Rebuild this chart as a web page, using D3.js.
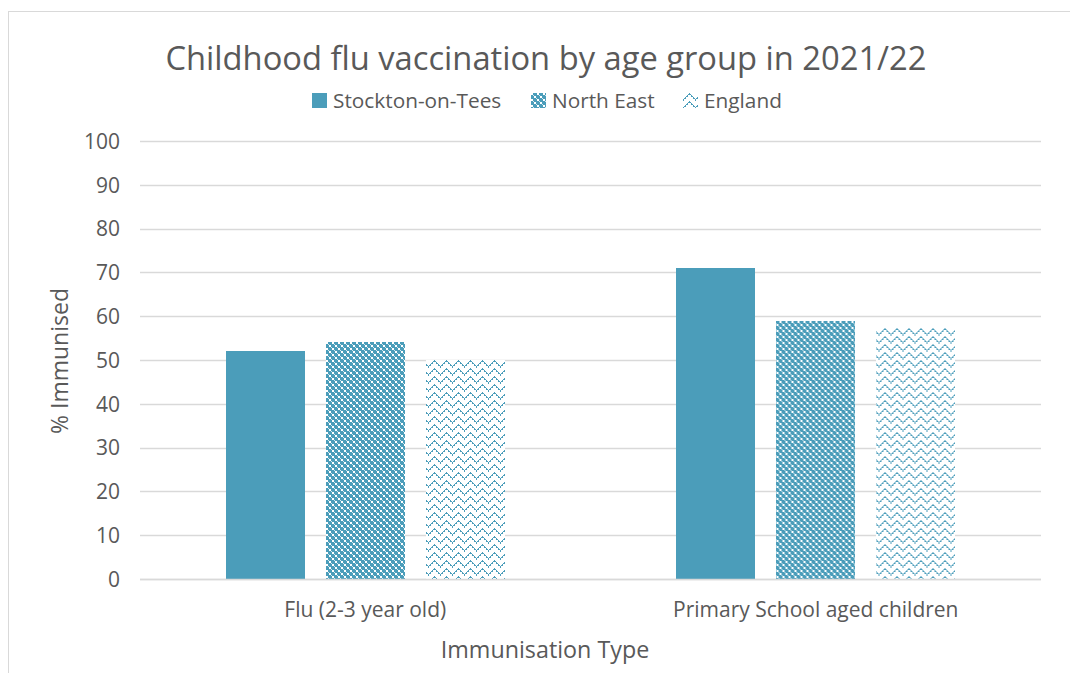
<!DOCTYPE html>
<html>
<head>
<meta charset="utf-8">
<script src="https://cdn.jsdelivr.net/npm/d3@7"></script>
<style>
  html, body { margin: 0; padding: 0; background: #fff; }
  svg { display: block; }
  text { font-family: "Open Sans", Lato, sans-serif; fill: #595959; }
</style>
</head>
<body>
<div id="chart"></div>
<script>
// Childhood flu vaccination uptake, 2021/22
const categories = ["Flu (2-3 year old)", "Primary School aged children"];
const seriesNames = ["Stockton-on-Tees", "North East", "England"];
const stocktonValues = [52, 71];
const northEastValues = [54, 59];
const englandValues = [50, 57.2];
const yTicks = [0, 10, 20, 30, 40, 50, 60, 70, 80, 90, 100];

const seriesValues = [stocktonValues, northEastValues, englandValues];

const W = 1070, H = 673;
const margin = { left: 140, right: 1041, top: 141, bottom: 579 };
const blue = "#4b9dba";
const FONT = "'Open Sans', Lato, sans-serif";

const svg = d3.select("#chart").append("svg")
  .attr("width", W).attr("height", H);

// Chart area border
svg.append("rect")
  .attr("x", 8.5).attr("y", 11.5)
  .attr("width", 1070).attr("height", 700)
  .attr("fill", "none").attr("stroke", "#d9d9d9").attr("stroke-width", 1);

const defs = svg.append("defs");

// Dotted grid fill for North East
const pNE = defs.append("pattern")
  .attr("id", "pat-ne").attr("patternUnits", "userSpaceOnUse")
  .attr("width", 6).attr("height", 6);
pNE.append("rect").attr("width", 6).attr("height", 6).attr("fill", blue);
[[0, 0], [3, 3]].forEach(([x, yy]) => {
  pNE.append("rect").attr("x", x).attr("y", yy).attr("width", 2).attr("height", 2).attr("fill", "#fff");
});
pNE.append("rect").attr("x", 2).attr("y", 2).attr("width", 1).attr("height", 1).attr("fill", "#cfe6ee");
pNE.append("rect").attr("x", 5).attr("y", 5).attr("width", 1).attr("height", 1).attr("fill", "#cfe6ee");

// Stepped chevron fill for England
const pEN = defs.append("pattern")
  .attr("id", "pat-en").attr("patternUnits", "userSpaceOnUse")
  .attr("width", 12).attr("height", 8);
pEN.append("rect").attr("width", 12).attr("height", 8).attr("fill", "#fff");
const chevron = [[0,6],[1,5],[2,4],[3,3],[4,2],[5,1],[6,0],[7,1],[8,2],[9,3],[10,4],[11,5],
                 [0,7],[2,5],[4,3],[6,1],[8,3],[10,5]];
chevron.forEach(([x, yy]) => {
  pEN.append("rect").attr("x", x).attr("y", yy).attr("width", 1).attr("height", 1).attr("fill", blue);
});
const fills = [blue, "url(#pat-ne)", "url(#pat-en)"];

const y = d3.scaleLinear().domain([0, 100]).range([margin.bottom, margin.top]);
const x0 = d3.scaleBand().domain(categories).range([margin.left, margin.right]);
const inner = 85.7;
const x1 = d3.scaleBand().domain(seriesNames)
  .range([inner, x0.bandwidth() - inner]).paddingInner(0.21);

// Gridlines
svg.append("g")
  .selectAll("line").data(yTicks).join("line")
  .attr("x1", margin.left).attr("x2", margin.right)
  .attr("y1", d => Math.round(y(d)) + 0.5).attr("y2", d => Math.round(y(d)) + 0.5)
  .attr("stroke", "#d9d9d9").attr("stroke-width", 1.3);

// Y axis labels
const yAxis = d3.axisLeft(y).tickValues(yTicks).tickSize(0).tickPadding(0);
const gy = svg.append("g").attr("transform", `translate(${margin.left - 20},0)`).call(yAxis);
gy.select(".domain").remove();
gy.selectAll("text").attr("font-size", 21).attr("fill", "#595959")
  .attr("font-family", FONT).attr("dy", "0.35em");

// Bars
const groups = svg.append("g").selectAll("g").data(categories).join("g")
  .attr("transform", d => `translate(${x0(d)},0)`);
groups.selectAll("rect")
  .data((d, i) => seriesNames.map((s, j) => ({ s, j, v: seriesValues[j][i] })))
  .join("rect")
  .attr("x", d => x1(d.s)).attr("width", x1.bandwidth())
  .attr("y", d => y(d.v)).attr("height", d => y(0) - y(d.v))
  .attr("fill", d => fills[d.j])
  .attr("shape-rendering", "crispEdges");

// X axis line
svg.append("line")
  .attr("x1", margin.left).attr("x2", margin.right)
  .attr("y1", margin.bottom + 0.5).attr("y2", margin.bottom + 0.5)
  .attr("stroke", "#d9d9d9").attr("stroke-width", 1.3);

// Category labels
const xAxis = d3.axisBottom(x0).tickSize(0).tickPadding(0);
const gx = svg.append("g").attr("transform", `translate(0,${margin.bottom + 23})`).call(xAxis);
gx.select(".domain").remove();
gx.selectAll("text").attr("font-size", 21).attr("fill", "#595959")
  .attr("font-family", FONT).attr("dy", "0.71em");

// Title
svg.append("text").attr("x", 546).attr("y", 70).attr("text-anchor", "middle")
  .attr("font-size", 32.7).text("Childhood flu vaccination by age group in 2021/22");

// Axis titles
svg.append("text").attr("x", 545).attr("y", 658).attr("text-anchor", "middle")
  .attr("font-size", 23.3).text("Immunisation Type");
svg.append("text").attr("transform", "translate(68,361) rotate(-90)")
  .attr("text-anchor", "middle").attr("font-size", 23).text("% Immunised");

// Legend
const legendX = [312, 531, 683];
const lg = svg.append("g").selectAll("g").data(seriesNames).join("g")
  .attr("transform", (d, i) => `translate(${legendX[i]},93)`);
lg.append("rect").attr("width", 15).attr("height", 15)
  .attr("fill", (d, i) => fills[i]).attr("shape-rendering", "crispEdges");
lg.append("text").attr("x", 21).attr("y", 15).attr("font-size", 20.8).text(d => d);
</script>
</body>
</html>
